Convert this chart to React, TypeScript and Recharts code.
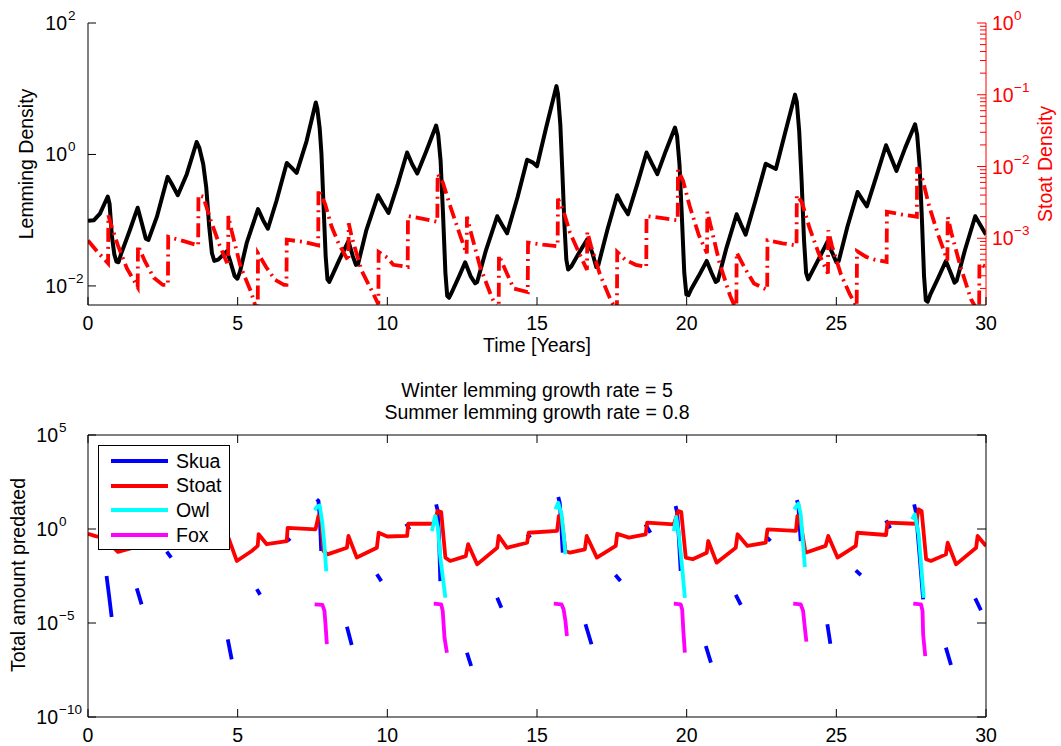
import { LineChart, Line, XAxis, YAxis } from "recharts";

const FONT = "'Liberation Sans', Arial, Helvetica, sans-serif";

// axis ticks
const xTicks = [0, 5, 10, 15, 20, 25, 30];
const lemmingTicks = [1e-2, 1, 1e2];
const stoatDensityMajor = [1e-3, 1e-2, 1e-1, 1];
const predatedTicks = [1e-10, 1e-5, 1, 1e5];

const seriesNames = ["Skua", "Stoat", "Owl", "Fox"];
const seriesColors = ["#0000ff", "#ff0000", "#00ffff", "#ff00ff"];

// [year, log10(value)]
const lemming: [number, number][] = [
  [0, -1.01], [0.2, -1.0], [0.4, -0.9], [0.55, -0.75], [0.66, -0.64], [0.72, -0.75], [0.8, -1.25], [0.88, -1.52],
  [0.95, -1.63], [1.02, -1.64], [1.1, -1.52], [1.4, -1.15], [1.66, -0.81], [1.8, -1.05], [1.93, -1.28], [2.02, -1.3],
  [2.3, -0.95], [2.66, -0.34], [2.8, -0.45], [3.0, -0.62], [3.3, -0.3], [3.63, 0.19], [3.72, 0.1], [3.85, -0.15],
  [3.95, -0.5], [4.05, -1.1], [4.14, -1.5], [4.22, -1.62], [4.35, -1.6], [4.64, -1.47], [4.75, -1.62], [4.9, -1.85],
  [4.99, -1.89], [5.08, -1.78], [5.3, -1.35], [5.68, -0.83], [5.85, -1.0], [6.01, -1.13], [6.3, -0.7], [6.64, -0.13],
  [6.8, -0.2], [6.97, -0.28], [7.3, 0.2], [7.61, 0.79], [7.66, 0.7], [7.74, 0.4], [7.8, 0.0], [7.87, -0.79],
  [7.94, -1.55], [8.0, -1.9], [8.06, -1.94], [8.15, -1.85], [8.4, -1.6], [8.7, -1.32], [8.85, -1.55], [8.95, -1.68],
  [9.02, -1.67], [9.3, -1.15], [9.69, -0.62], [9.85, -0.75], [10.04, -0.89], [10.35, -0.45], [10.66, 0.03], [10.83, -0.15],
  [11.0, -0.29], [11.3, 0.05], [11.63, 0.44], [11.7, 0.3], [11.78, -0.1], [11.86, -0.9], [11.94, -1.8], [12.0, -2.15],
  [12.06, -2.18], [12.15, -2.1], [12.4, -1.85], [12.6, -1.64], [12.78, -1.85], [12.93, -1.96], [13.0, -1.94], [13.3, -1.45],
  [13.67, -0.94], [13.83, -1.07], [14.0, -1.2], [14.35, -0.65], [14.67, -0.08], [14.85, -0.12], [15.0, -0.18], [15.3, 0.4],
  [15.65, 1.04], [15.7, 0.92], [15.78, 0.45], [15.85, -0.3], [15.92, -1.1], [15.98, -1.6], [16.04, -1.75], [16.15, -1.7],
  [16.4, -1.5], [16.68, -1.29], [16.85, -1.5], [16.98, -1.71], [17.05, -1.68], [17.35, -1.15], [17.68, -0.62], [17.85, -0.77],
  [18.04, -0.91], [18.35, -0.45], [18.66, 0.03], [18.84, -0.14], [19.02, -0.3], [19.3, 0.05], [19.61, 0.41], [19.68, 0.28],
  [19.76, -0.15], [19.84, -0.95], [19.92, -1.8], [19.99, -2.13], [20.06, -2.14], [20.15, -2.05], [20.4, -1.85], [20.67, -1.62],
  [20.83, -1.8], [20.97, -1.94], [21.04, -1.92], [21.33, -1.42], [21.67, -0.91], [21.82, -1.07], [21.97, -1.22], [22.3, -0.7],
  [22.64, -0.14], [22.8, -0.18], [22.98, -0.22], [23.3, 0.35], [23.62, 0.91], [23.68, 0.8], [23.76, 0.35], [23.84, -0.4],
  [23.92, -1.3], [23.99, -1.8], [24.06, -1.9], [24.15, -1.82], [24.4, -1.6], [24.7, -1.33], [24.87, -1.5], [25.0, -1.64],
  [25.08, -1.62], [25.37, -1.1], [25.71, -0.57], [25.86, -0.68], [26.02, -0.79], [26.34, -0.33], [26.66, 0.14], [26.83, -0.05],
  [27.01, -0.25], [27.3, 0.1], [27.63, 0.46], [27.7, 0.3], [27.78, -0.15], [27.86, -1.0], [27.93, -1.85], [27.99, -2.22],
  [28.05, -2.24], [28.15, -2.12], [28.4, -1.88], [28.66, -1.62], [28.82, -1.8], [28.95, -1.95], [29.02, -1.92], [29.3, -1.45],
  [29.64, -0.94], [29.82, -1.08], [30, -1.22],
];

const stoatDensity: [number, number][] = [
  [0, -3.03], [0.3, -3.18], [0.67, -3.35], [0.68, -2.68], [0.8, -2.85], [1.0, -3.1], [1.3, -3.42], [1.66, -3.68],
  [1.67, -3.1], [1.9, -3.32], [2.2, -3.55], [2.5, -3.65], [2.67, -3.65], [2.68, -2.98], [3.2, -3.04], [3.68, -3.1],
  [3.69, -2.4], [3.85, -2.42], [4.1, -2.75], [4.4, -3.1], [4.68, -3.38], [4.69, -2.69], [4.8, -2.9], [5.1, -3.4],
  [5.45, -3.75], [5.67, -4.05], [5.68, -3.21], [5.95, -3.4], [6.25, -3.58], [6.55, -3.65], [6.63, -3.65], [6.64, -3.02],
  [7.2, -3.05], [7.69, -3.1], [7.7, -2.32], [7.92, -2.52], [8.14, -2.84], [8.37, -3.07], [8.7, -3.32], [8.71, -2.79],
  [8.81, -2.98], [9.14, -3.45], [9.48, -3.73], [9.7, -3.92], [9.71, -3.19], [10.0, -3.27], [10.2, -3.37], [10.68, -3.4],
  [10.69, -2.69], [11.2, -2.73], [11.67, -2.77], [11.68, -2.1], [11.85, -2.22], [12.1, -2.55], [12.4, -2.92], [12.65, -3.22],
  [12.66, -2.7], [12.78, -2.9], [13.1, -3.4], [13.45, -3.78], [13.72, -4.05], [13.73, -3.24], [13.94, -3.44], [14.22, -3.7],
  [14.69, -3.75], [14.7, -3.06], [15.2, -3.09], [15.69, -3.11], [15.7, -2.45], [15.87, -2.6], [16.1, -2.92], [16.4, -3.2],
  [16.67, -3.44], [16.68, -2.91], [16.8, -3.1], [17.1, -3.5], [17.45, -3.85], [17.67, -4.02], [17.68, -3.19], [17.95, -3.3],
  [18.3, -3.37], [18.65, -3.4], [18.66, -2.69], [19.2, -2.72], [19.7, -2.75], [19.71, -2.05], [19.88, -2.2], [20.1, -2.55],
  [20.4, -2.95], [20.68, -3.21], [20.69, -2.63], [20.8, -2.82], [21.1, -3.35], [21.45, -3.8], [21.66, -4.0], [21.67, -3.2],
  [21.95, -3.42], [22.25, -3.63], [22.69, -3.72], [22.7, -3.03], [23.2, -3.07], [23.67, -3.1], [23.68, -2.4], [23.85, -2.5],
  [24.1, -2.85], [24.4, -3.2], [24.72, -3.49], [24.73, -2.89], [24.85, -3.1], [25.15, -3.5], [25.45, -3.78], [25.68, -3.95],
  [25.69, -3.18], [26.0, -3.26], [26.3, -3.3], [26.68, -3.33], [26.69, -2.63], [27.2, -2.67], [27.69, -2.7], [27.7, -2.01],
  [27.88, -2.18], [28.1, -2.55], [28.4, -2.95], [28.71, -3.31], [28.72, -2.7], [28.84, -2.92], [29.15, -3.4], [29.5, -3.85],
  [29.77, -4.05], [29.78, -3.35], [30, -3.4],
];

const stoatPredated: [number, number][] = [
  [0, -0.25], [0.25, -0.38], [0.62, -0.5], [0.68, -0.2], [0.8, -0.9], [1.0, -1.22], [1.6, -0.95], [1.66, -0.4],
  [1.95, -0.85], [2.62, -0.7], [2.67, -0.12], [3.6, -0.1], [3.7, 0.6], [3.8, 0.5], [3.95, -0.8], [4.1, -1.0],
  [4.6, -0.9], [4.7, -0.5], [4.97, -1.7], [5.47, -1.17], [5.67, -0.9], [5.7, -0.28], [5.97, -0.81], [6.64, -0.64],
  [6.67, 0.06], [7.6, -0.02], [7.7, 0.69], [7.78, 0.6], [7.87, -1.17], [8.0, -1.35], [8.65, -1.0], [8.7, -0.37],
  [8.98, -1.52], [9.65, -1.0], [9.71, -0.2], [10.0, -0.4], [10.66, -0.37], [10.7, 0.28], [11.55, 0.28], [11.68, 0.96],
  [11.8, 0.9], [11.94, -1.52], [12.1, -1.7], [12.62, -1.44], [12.7, -0.81], [13.0, -1.88], [13.67, -1.0], [13.72, -0.37],
  [14.0, -1.0], [14.67, -0.73], [14.72, -0.2], [15.67, -0.1], [15.73, 0.69], [15.82, 0.6], [15.95, -1.17], [16.1, -1.26],
  [16.6, -1.08], [16.66, -0.37], [17.0, -1.52], [17.63, -0.9], [17.68, -0.25], [18.07, -0.46], [18.63, -0.28], [18.68, 0.34],
  [19.57, 0.25], [19.72, 0.96], [19.82, 0.9], [19.97, -1.52], [20.2, -1.61], [20.67, -1.26], [20.72, -0.64], [21.0, -1.79],
  [21.64, -1.0], [21.7, -0.28], [22.03, -0.9], [22.64, -0.73], [22.7, -0.02], [23.65, -0.1], [23.7, 0.69], [23.78, 0.6],
  [23.97, -1.26], [24.64, -0.9], [24.73, -0.37], [25.04, -1.52], [25.65, -0.9], [25.7, -0.2], [26.66, -0.32], [26.71, 0.34],
  [27.66, 0.28], [27.75, 1.05], [27.85, 0.95], [28.0, -1.61], [28.16, -1.7], [28.66, -1.35], [28.72, -0.73], [29.0, -1.88],
  [29.67, -1.0], [29.72, -0.37], [30, -0.9],
];

const skuaSegments: [number, number][][] = [
  [[0.62, -2.5], [0.7, -3.5], [0.79, -4.68]],
  [[1.63, -3.16], [1.79, -4.01]],
  [[2.63, -1.2], [2.78, -1.52]],
  [[4.67, -5.87], [4.8, -6.93]],
  [[5.64, -3.2], [5.75, -3.5]],
  [[6.64, -0.46], [6.75, -0.64]],
  [[7.64, 1.58], [7.7, 1.49], [7.75, 0.43], [7.79, -1.17]],
  [[8.65, -5.2], [8.81, -6.17]],
  [[9.65, -2.41], [9.8, -2.77]],
  [[10.63, 0.28], [10.74, -0.02]],
  [[11.63, 1.31], [11.68, 1.0], [11.73, -0.5], [11.77, -2.77]],
  [[12.66, -6.58], [12.8, -7.29]],
  [[13.67, -3.66], [13.81, -4.19]],
  [[14.67, -0.28], [14.78, -0.46]],
  [[15.71, 1.7], [15.76, 1.4], [15.81, 0.2], [15.86, -1.26]],
  [[16.62, -5.07], [16.82, -6.13]],
  [[17.62, -2.45], [17.79, -2.77]],
  [[18.62, 0.25], [18.79, -0.2]],
  [[19.63, 1.22], [19.68, 0.9], [19.74, -0.5], [19.8, -2.23]],
  [[20.64, -6.22], [20.81, -7.11]],
  [[21.64, -3.51], [21.81, -4.04]],
  [[22.69, -0.46], [22.8, -0.64]],
  [[23.68, 1.53], [23.73, 1.3], [23.77, 0.3], [23.81, -0.64]],
  [[24.7, -5.07], [24.8, -6.1]],
  [[25.65, -2.2], [25.82, -2.45]],
  [[26.66, 0.46], [26.8, 0.04]],
  [[27.6, 1.31], [27.66, 0.9], [27.75, -0.8], [27.9, -3.74]],
  [[28.66, -6.31], [28.83, -7.23]],
  [[29.64, -3.69], [29.83, -4.32]],
];

const owlSegments: [number, number][][] = [
  [[7.57, 1.0], [7.66, 1.2], [7.74, 1.25], [7.83, 0.3], [7.9, -0.9], [7.96, -2.25]],
  [[11.49, -0.11], [11.6, 0.69], [11.69, 0.07], [11.77, -1.52], [11.94, -3.66]],
  [[15.62, 1.05], [15.71, 1.4], [15.82, 0.78], [15.9, -0.46], [15.95, -1.35]],
  [[19.57, -0.11], [19.65, 0.64], [19.74, -0.28], [19.85, -2.06], [19.94, -3.66]],
  [[23.59, 1.05], [23.73, 1.35], [23.81, 0.78], [23.88, -0.64], [23.95, -2.02]],
  [[27.53, 0.51], [27.62, 0.78], [27.75, -0.28], [27.84, -2.06], [27.92, -3.66]],
];

const foxSegments: [number, number][][] = [
  [[7.57, -4.01], [7.83, -4.04], [7.9, -4.36], [7.94, -5.2], [7.98, -6.13]],
  [[11.55, -3.97], [11.8, -4.01], [11.85, -4.36], [11.91, -5.78], [11.99, -6.58]],
  [[15.56, -3.97], [15.82, -4.01], [15.89, -4.28], [15.95, -4.89], [16.0, -5.69]],
  [[19.57, -3.97], [19.8, -4.01], [19.85, -4.28], [19.89, -5.43], [19.94, -6.58]],
  [[23.56, -3.97], [23.81, -4.01], [23.89, -4.36], [23.96, -5.43], [24.0, -5.99]],
  [[27.57, -3.97], [27.83, -4.01], [27.88, -4.36], [27.9, -5.6], [27.97, -6.76]],
];

const toRows = (pts: [number, number][]) => pts.map(([t, l]) => ({ t, v: Math.pow(10, l) as number | null }));
const segRows = (segs: [number, number][][]) =>
  segs.flatMap((s, i) =>
    i === 0 ? toRows(s) : [{ t: (segs[i - 1][segs[i - 1].length - 1][0] + s[0][0]) / 2, v: null }, ...toRows(s)]
  );

const lemmingRows = toRows(lemming);
const stoatDensityRows = toRows(stoatDensity);
const predatedRows = [segRows(skuaSegments), toRows(stoatPredated), segRows(owlSegments), segRows(foxSegments)];

// minor ticks for the stoat density axis
const stoatDensityTicks = [
  ...stoatDensityMajor,
  ...[-4, -3, -2, -1].flatMap((d) => [2, 3, 4, 5, 6, 7, 8, 9].map((m) => m * Math.pow(10, d))),
].filter((v) => v >= Math.pow(10, -3.93) && v <= 1);

const isDecade = (v: number) => Math.abs(Math.log10(v) - Math.round(Math.log10(v))) < 1e-6;
const expText = (v: number) => {
  const e = Math.round(Math.log10(v));
  return e < 0 ? "\u2212" + Math.abs(e) : String(e);
};

function LeftTick(props: any) {
  const { x, y, payload, gap } = props;
  return (
    <g>
      <line x1={x} x2={x + 8} y1={y} y2={y} stroke="#000" />
      <text x={x - gap} y={y + 7} textAnchor="end" fontSize={19.5} fontFamily={FONT} fill="#000">10</text>
      <text x={x - gap + 1} y={y - 3} fontSize={13.5} fontFamily={FONT} fill="#000">{expText(payload.value)}</text>
    </g>
  );
}

function RightTick(props: any) {
  const { x, y, payload, color, labels } = props;
  const major = isDecade(payload.value);
  return (
    <g>
      <line x1={x - (major ? 9 : 6)} x2={x} y1={y} y2={y} stroke={color} />
      {labels && major && (
        <>
          <text x={x + 6} y={y + 7} fontSize={19.5} fontFamily={FONT} fill={color}>10</text>
          <text x={x + 28} y={y - 3} fontSize={13.5} fontFamily={FONT} fill={color}>{expText(payload.value)}</text>
        </>
      )}
    </g>
  );
}

function BottomTick(props: any) {
  const { x, y, payload } = props;
  return (
    <g>
      <line x1={x} x2={x} y1={y} y2={y - 8} stroke="#000" />
      <text x={x} y={y + 25} textAnchor="middle" fontSize={19.5} fontFamily={FONT} fill="#000">{payload.value}</text>
    </g>
  );
}

function TopTick(props: any) {
  const { x, y } = props;
  return <line x1={x} x2={x} y1={y} y2={y + 8} stroke="#000" />;
}

export default function App() {
  return (
    <div style={{ position: "absolute", left: 0, top: 0, width: 1061, height: 746, background: "#fff", fontFamily: FONT }}>
      <div style={{ position: "absolute", left: 0, top: 0 }}>
        <LineChart width={1061} height={345} margin={{ top: 23, left: 87, right: 74, bottom: 39 }}>
          <XAxis
            dataKey="t" type="number" domain={[0, 30]} ticks={xTicks} interval={0} allowDataOverflow
            height={1} tickSize={0} tickMargin={0} axisLine={{ stroke: "#000" }} tick={<BottomTick />}
          />
          <YAxis
            yAxisId="left" scale="log" domain={[Math.pow(10, -2.29), 100]} ticks={lemmingTicks} interval={0}
            allowDataOverflow width={1} tickSize={0} tickMargin={0} axisLine={{ stroke: "#000" }}
            tick={(p: any) => <LeftTick {...p} gap={21} />}
          />
          <YAxis
            yAxisId="right" orientation="right" scale="log" domain={[Math.pow(10, -3.93), 1]} ticks={stoatDensityTicks}
            interval={0} allowDataOverflow width={1} tickSize={0} tickMargin={0} axisLine={{ stroke: "#ff0000" }}
            tick={(p: any) => <RightTick {...p} color="#ff0000" labels />}
          />
          <Line
            yAxisId="left" data={lemmingRows} dataKey="v" type="linear" stroke="#000" strokeWidth={4}
            strokeLinejoin="round" dot={false} activeDot={false} isAnimationActive={false}
          />
          <Line
            yAxisId="right" data={stoatDensityRows} dataKey="v" type="linear" stroke="#ff0000" strokeWidth={3.8}
            strokeDasharray="14 5 2 5" dot={false} activeDot={false} isAnimationActive={false}
          />
        </LineChart>
      </div>

      <div style={{ position: "absolute", left: 0, top: 380 }}>
        <LineChart width={1061} height={366} margin={{ top: 54, left: 87, right: 74, bottom: 28 }}>
          <XAxis
            dataKey="t" type="number" domain={[0, 30]} ticks={xTicks} interval={0} allowDataOverflow
            height={1} tickSize={0} tickMargin={0} axisLine={{ stroke: "#000" }} tick={<BottomTick />}
          />
          <XAxis
            xAxisId="top" orientation="top" dataKey="t" type="number" domain={[0, 30]} ticks={xTicks} interval={0}
            allowDataOverflow height={1} tickSize={0} tickMargin={0} axisLine={{ stroke: "#000" }} tick={<TopTick />}
          />
          <YAxis
            scale="log" domain={[1e-10, 1e5]} ticks={predatedTicks} interval={0} allowDataOverflow width={1}
            tickSize={0} tickMargin={0} axisLine={{ stroke: "#000" }} tick={(p: any) => <LeftTick {...p} gap={30} />}
          />
          <YAxis
            yAxisId="right" orientation="right" scale="log" domain={[1e-10, 1e5]} ticks={predatedTicks} interval={0}
            allowDataOverflow width={1} tickSize={0} tickMargin={0} axisLine={{ stroke: "#000" }}
            tick={(p: any) => <RightTick {...p} color="#000" />}
          />
          {seriesNames.map((name, i) => (
            <Line
              key={name} name={name} data={predatedRows[i]} dataKey="v" type="linear" stroke={seriesColors[i]}
              strokeWidth={3.8} strokeLinejoin="round" connectNulls={false} dot={false} activeDot={false}
              isAnimationActive={false}
            />
          ))}
        </LineChart>
      </div>

      <div
        style={{
          position: "absolute", left: 98, top: 445, width: 132, height: 105, background: "#fff",
          border: "1px solid #000", boxSizing: "border-box",
        }}
      >
        {seriesNames.map((name, i) => (
          <div key={name} style={{ position: "absolute", left: 12, top: 3 + i * 24.7, height: 24, display: "flex", alignItems: "center" }}>
            <div style={{ width: 57, height: 4, background: seriesColors[i] }} />
            <span style={{ marginLeft: 8, fontSize: 19.5, color: "#000" }}>{name}</span>
          </div>
        ))}
      </div>

      <svg width={1061} height={746} style={{ position: "absolute", left: 0, top: 0, pointerEvents: "none" }} fontFamily={FONT}>
        <text x={26} y={164} fontSize={19.5} textAnchor="middle" dominantBaseline="central" transform="rotate(-90 26 164)">
          Lemming Density
        </text>
        <text x={1045} y={164} fontSize={19.5} fill="#ff0000" textAnchor="middle" dominantBaseline="central" transform="rotate(-90 1045 164)">
          Stoat Density
        </text>
        <text x={537} y={352} fontSize={19.5} textAnchor="middle">Time [Years]</text>
        <text x={537} y={397} fontSize={19.5} textAnchor="middle">Winter lemming growth rate = 5</text>
        <text x={537} y={419} fontSize={19.5} textAnchor="middle">Summer lemming growth rate = 0.8</text>
        <text x={18} y={575} fontSize={19.5} textAnchor="middle" dominantBaseline="central" transform="rotate(-90 18 575)">
          Total amount predated
        </text>
      </svg>
    </div>
  );
}
